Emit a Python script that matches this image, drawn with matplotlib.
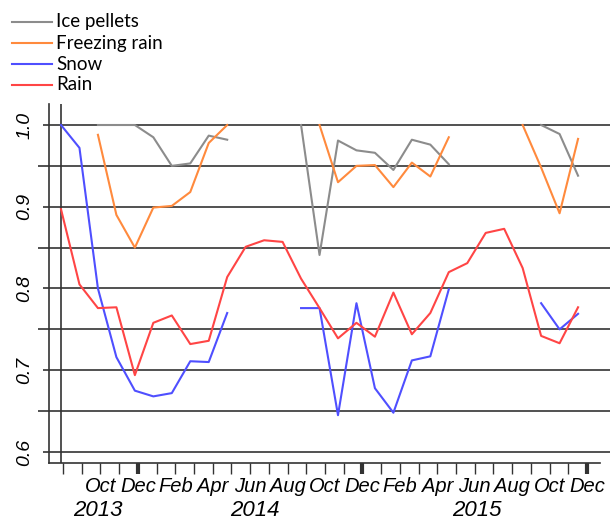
import numpy as np
import matplotlib
matplotlib.use('Agg')
from matplotlib import pyplot as plt
from matplotlib import transforms
from matplotlib.lines import Line2D

nan = np.nan

# monthly axis, Aug 2013 .. Dec 2015
months = ['Aug', 'Sep', 'Oct', 'Nov', 'Dec',
          'Jan', 'Feb', 'Mar', 'Apr', 'May', 'Jun', 'Jul', 'Aug', 'Sep', 'Oct', 'Nov', 'Dec',
          'Jan', 'Feb', 'Mar', 'Apr', 'May', 'Jun', 'Jul', 'Aug', 'Sep', 'Oct', 'Nov', 'Dec']
month_years = [2013] * 5 + [2014] * 12 + [2015] * 12
years = [2013, 2014, 2015]
labelled_months = ['Oct', 'Dec', 'Feb', 'Apr', 'Jun', 'Aug']

ice_pellets = [nan, nan, 1.0, 1.0, 1.0, 0.985, 0.95, 0.953, 0.987, 0.982,
               nan, nan, nan, 1.0, 0.841, 0.981, 0.969, 0.966, 0.945, 0.982, 0.976, 0.952,
               nan, nan, nan, nan, 1.0, 0.989, 0.938]
freezing_rain = [nan, nan, 0.988, 0.89, 0.85, 0.899, 0.901, 0.918, 0.978, 1.0,
                 nan, nan, nan, nan, 1.0, 0.93, 0.95, 0.951, 0.924, 0.954, 0.937, 0.985,
                 nan, nan, nan, 1.0, 0.948, 0.892, 0.983]
snow = [1.0, 0.972, 0.80, 0.716, 0.675, 0.668, 0.672, 0.711, 0.710, 0.77,
        nan, nan, nan, 0.776, 0.776, 0.645, 0.782, 0.678, 0.648, 0.712, 0.717, 0.799,
        nan, nan, nan, nan, 0.782, 0.750, 0.769]
rain = [0.897, 0.805, 0.776, 0.777, 0.694, 0.758, 0.767, 0.732, 0.736, 0.814,
        0.851, 0.859, 0.857, 0.812, 0.776, 0.739, 0.758, 0.741, 0.795, 0.744, 0.77,
        0.82, 0.831, 0.868, 0.873, 0.825, 0.742, 0.733, 0.777]

series = [
    ('Ice pellets', ice_pellets, '#8c8c8c'),
    ('Freezing rain', freezing_rain, '#ff8a3d'),
    ('Snow', snow, '#4f4fff'),
    ('Rain', rain, '#ff4545'),
]

axis_col = '#333333'
tick_font = dict(family='Liberation Sans', style='italic')

fig = plt.figure(figsize=(6.1, 5.2), dpi=100)
ax = fig.add_axes([49 / 610, 57 / 520, 561 / 610, 359 / 520])

x = np.arange(len(months))
for name, vals, col in series:
    ax.plot(x, vals, color=col, lw=1.5, zorder=3)

# horizontal reference lines and the start line
for level in np.arange(0.6, 1.001, 0.05):
    ax.axhline(level, color=axis_col, lw=1.2, zorder=1)
ax.axvline(0, color=axis_col, lw=1.2, zorder=1)

ax.set_xlim(-0.65, 29.73)
ax.set_ylim(0.5865, 1.0257)

for side in ['top', 'right']:
    ax.spines[side].set_visible(False)
for side in ['left', 'bottom']:
    ax.spines[side].set_color(axis_col)
    ax.spines[side].set_linewidth(1.2)
ax.spines['bottom'].set_bounds(-0.65, 29.19)

# y axis
ax.set_yticks([0.6, 0.7, 0.8, 0.9, 1.0])
ax.set_yticklabels(['0.6', '0.7', '0.8', '0.9', '1.0'], rotation=90, va='center',
                   fontsize=14, **tick_font)
ax.set_yticks([0.65, 0.75, 0.85, 0.95], minor=True)
ax.tick_params(axis='y', which='major', length=4.5, width=1.2, color=axis_col, pad=7)
ax.tick_params(axis='y', which='minor', length=8, width=1.2, color=axis_col)

# x axis: ticks drawn on a slightly wider spacing than the data in the original
tick_pos = 0.108 + 1.0135 * x
ax.set_xticks(tick_pos)
ax.set_xticklabels([m if (k >= 2 and k % 2 == 0 and m in labelled_months) else ''
                    for k, m in enumerate(months)],
                   fontsize=14.5, **tick_font)
ax.tick_params(axis='x', length=8, width=1, color=axis_col, pad=2)
for k, t in enumerate(ax.xaxis.get_major_ticks()):
    if months[k] == 'Dec':
        t.tick1line.set_markeredgewidth(3)
        t.tick1line.set_color('black')

trans = transforms.blended_transform_factory(ax.transData, ax.transAxes)
for yr in years:
    idx = [k for k in x if month_years[k] == yr]
    ax.text(np.mean(idx), -0.133, str(yr), transform=trans, ha='center', va='center',
            fontsize=16, **tick_font)

# legend above the plot, top left
for i, (name, vals, col) in enumerate(series):
    y = 1 - (22 + 21 * i) / 520
    fig.add_artist(Line2D([12 / 610, 52 / 610], [y, y], color=col, lw=1.5,
                          transform=fig.transFigure))
    fig.text(56 / 610, y, name, va='center', ha='left', fontsize=13.5, family='Lato')

fig.savefig('out.png', dpi=100)
